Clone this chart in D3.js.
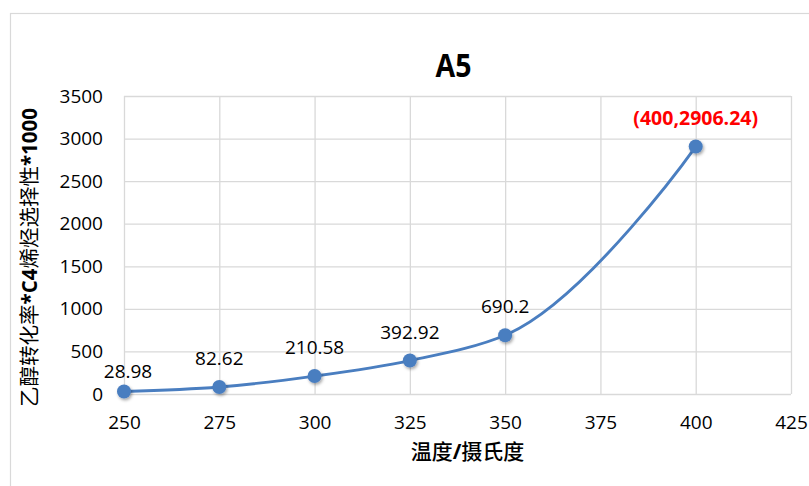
<!DOCTYPE html>
<html>
<head>
<meta charset="utf-8">
<script src="https://cdn.jsdelivr.net/npm/d3@7/dist/d3.min.js"></script>
<style>
  html, body { margin: 0; padding: 0; background: #ffffff; }
  svg { display: block; }
</style>
</head>
<body>
<svg id="chart" width="809" height="486"></svg>
<script>
// Temperature (°C) and ethanol conversion × C4 olefin selectivity × 1000
const temperatures = [250, 275, 300, 325, 350, 400];
const values = [28.98, 82.62, 210.58, 392.92, 690.2, 2906.24];
const labelTexts = ["28.98", "82.62", "210.58", "392.92", "690.2", "(400,2906.24)"];
const xTicks = [250, 275, 300, 325, 350, 375, 400, 425];
const yTicks = [0, 500, 1000, 1500, 2000, 2500, 3000, 3500];

const svg = d3.select("#chart");
const plot = { left: 124, right: 791, top: 96, bottom: 394 };
const FONT = "'Open Sans', 'Noto Sans CJK SC', sans-serif";
const CJK = "'Noto Sans CJK SC', sans-serif";
const blue = "#4a7ec0";
const grid = "#d9d9d9";

// outer chart frame
svg.append("rect")
  .attr("x", 10.5).attr("y", 13.5)
  .attr("width", 830).attr("height", 520)
  .attr("fill", "#fff").attr("stroke", grid).attr("stroke-width", 1.2);

const x = d3.scaleLinear().domain([250, 425]).range([plot.left, plot.right]);
const y = d3.scaleLinear().domain([0, 3500]).range([plot.bottom, plot.top]);

// drop shadow for the markers
const defs = svg.append("defs");
const f = defs.append("filter").attr("id", "shadow")
  .attr("x", "-50%").attr("y", "-50%").attr("width", "200%").attr("height", "200%");
f.append("feDropShadow").attr("dx", 1.2).attr("dy", 1.8)
  .attr("stdDeviation", 1.4).attr("flood-color", "#000").attr("flood-opacity", 0.35);

// gridlines
const gx = svg.append("g").attr("transform", `translate(0,${plot.bottom})`)
  .call(d3.axisBottom(x).tickValues(xTicks).tickSize(-(plot.bottom - plot.top)).tickFormat(""));
const gy = svg.append("g").attr("transform", `translate(${plot.left},0)`)
  .call(d3.axisLeft(y).tickValues(yTicks).tickSize(-(plot.right - plot.left)).tickFormat(""));
[gx, gy].forEach(g => {
  g.select(".domain").remove();
  g.selectAll(".tick line").attr("stroke", grid).attr("stroke-width", 1.3);
});

// tick labels
const xl = svg.append("g").attr("transform", `translate(0,${plot.bottom})`)
  .call(d3.axisBottom(x).tickValues(xTicks).tickSize(0).tickPadding(22).tickFormat(d3.format("d")));
const yl = svg.append("g").attr("transform", `translate(${plot.left},0)`)
  .call(d3.axisLeft(y).tickValues(yTicks).tickSize(0).tickPadding(21).tickFormat(d3.format("d")));
[xl, yl].forEach(g => {
  g.select(".domain").remove();
  g.selectAll("text").attr("font-family", FONT).attr("font-size", 19).attr("fill", "#000");
});

// smoothed line
const line = d3.line()
  .x((d, i) => x(temperatures[i]))
  .y(d => y(d))
  .curve(d3.curveCatmullRom.alpha(1));
svg.append("path").datum(values)
  .attr("d", line)
  .attr("fill", "none").attr("stroke", blue).attr("stroke-width", 2.9);

// markers
svg.append("g").selectAll("circle").data(values).join("circle")
  .attr("cx", (d, i) => x(temperatures[i]))
  .attr("cy", d => y(d))
  .attr("r", 7)
  .attr("fill", blue)
  .attr("filter", "url(#shadow)");

// value labels
svg.append("g").selectAll("text").data(values).join("text")
  .attr("x", (d, i) => x(temperatures[i]) + (i === 0 ? 4 : 0))
  .attr("y", (d, i) => y(d) - (i === 0 ? 14 : 22))
  .attr("text-anchor", "middle")
  .attr("font-family", FONT)
  .attr("font-size", (d, i) => i === values.length - 1 ? 19.5 : 19)
  .attr("font-weight", (d, i) => i === values.length - 1 ? 700 : 400)
  .attr("fill", (d, i) => i === values.length - 1 ? "#ff0000" : "#000")
  .text((d, i) => labelTexts[i]);

// title
svg.append("text")
  .attr("x", 453.5).attr("y", 77)
  .attr("text-anchor", "middle")
  .attr("font-family", FONT).attr("font-weight", 700).attr("font-size", 33)
  .attr("textLength", 36).attr("lengthAdjust", "spacingAndGlyphs")
  .text("A5");

// x axis title
const xt = svg.append("text")
  .attr("x", 467.5).attr("y", 459)
  .attr("text-anchor", "middle")
  .attr("font-size", 21).attr("fill", "#000");
xt.append("tspan").attr("font-family", CJK).attr("font-weight", 500).text("温度");
xt.append("tspan").attr("font-family", FONT).attr("font-weight", 700).text("/");
xt.append("tspan").attr("font-family", CJK).attr("font-weight", 500).text("摄氏度");

// y axis title
const yt = svg.append("text")
  .attr("transform", "translate(37,257.5) rotate(-90)")
  .attr("text-anchor", "middle")
  .attr("font-size", 20.5).attr("fill", "#000");
yt.append("tspan").attr("font-family", CJK).attr("font-weight", 400).text("乙醇转化率");
yt.append("tspan").attr("font-family", FONT).attr("font-weight", 700).text("*C4");
yt.append("tspan").attr("font-family", CJK).attr("font-weight", 400).text("烯烃选择性");
yt.append("tspan").attr("font-family", FONT).attr("font-weight", 700).text("*1000");
</script>
</body>
</html>
